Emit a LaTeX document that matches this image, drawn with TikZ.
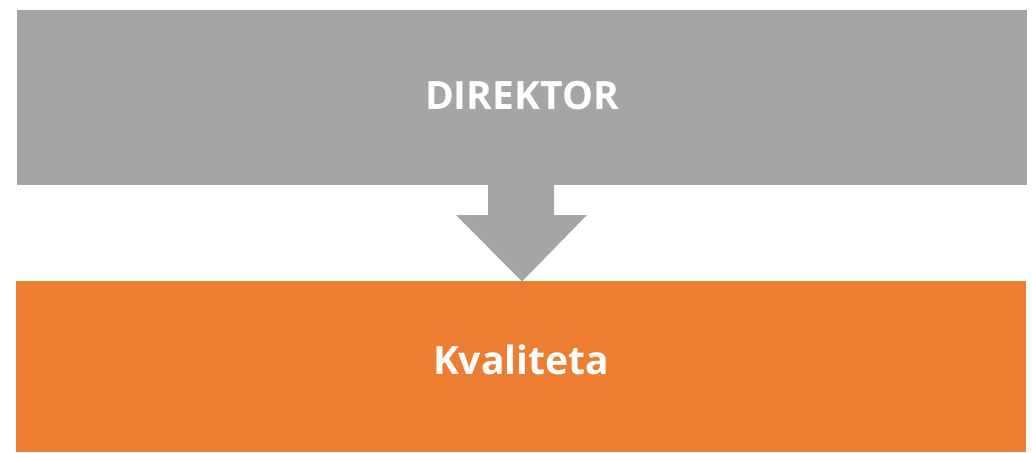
\documentclass[tikz,border=0pt]{standalone}
\usepackage{fontspec}
\setmainfont{Open Sans}
\usetikzlibrary{calc}
\definecolor{boxgray}{HTML}{A5A5A5}
\definecolor{boxorange}{HTML}{ED7D31}
\tikzset{
  bar/.style={rectangle, inner sep=0pt, outer sep=0pt, minimum width=1010pt,
    text=white, font=\fontsize{39}{45}\selectfont\bfseries},
}
\begin{document}
\begin{tikzpicture}[x=1pt,y=-1pt]
\useasboundingbox (0,0) rectangle (1032,452);
\node[bar, fill=boxgray, minimum height=175pt, text height=27.5pt, text depth=4pt]
  (dir) at (522,97.5) {DIREKTOR};
\node[bar, fill=boxorange, minimum height=171pt, text height=27.5pt, text depth=12pt]
  (kva) at (521,366.5) {Kvaliteta};
\fill[boxgray]
  ($(dir.south)+(-34,0)$) -- ($(dir.south)+(32,0)$) -- ($(dir.south)+(32,30)$)
  -- ($(dir.south)+(65,30)$) -- ($(kva.north)+(1,0.5)$) -- ($(dir.south)+(-66,30)$)
  -- ($(dir.south)+(-34,30)$) -- cycle;
\end{tikzpicture}
\end{document}
